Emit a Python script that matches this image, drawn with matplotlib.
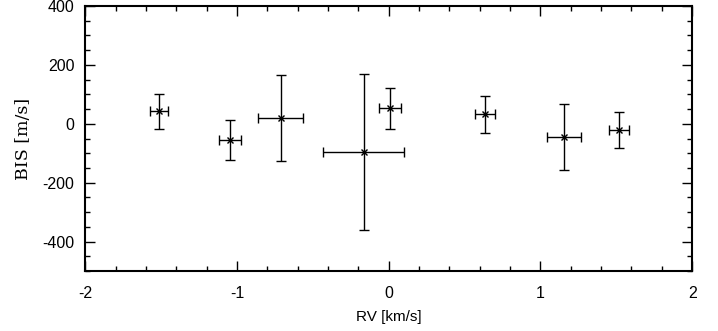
import matplotlib.pyplot as plt
from matplotlib.ticker import MultipleLocator

rv = [-1.515, -1.045, -0.712, -0.165, 0.008, 0.636, 1.154, 1.518]
rv_err = [0.061, 0.073, 0.149, 0.266, 0.070, 0.066, 0.113, 0.065]
bis = [43, -55, 19, -96, 53, 32, -44, -21]
bis_err = [59, 69, 145, 265, 69, 63, 112, 61]

plt.rcParams['font.family'] = ['Liberation Sans', 'DejaVu Sans']
plt.rcParams['axes.unicode_minus'] = False
fig = plt.figure(figsize=(7.18, 3.31), dpi=100)
ax = fig.add_axes([0.119, 0.181, 0.845, 0.801])

ax.errorbar(rv, bis, xerr=rv_err, yerr=bis_err, fmt='none', ecolor='black',
            elinewidth=1.0, capsize=3.5, capthick=1.0)
ax.plot(rv, bis, 'x', color='black', markersize=4, markeredgewidth=1.0)
ax.plot(rv, bis, 's', color='black', markersize=2)

ax.set_xlim(-2, 2)
ax.set_ylim(-500, 400)
ax.xaxis.set_major_locator(MultipleLocator(1))
ax.xaxis.set_minor_locator(MultipleLocator(0.2))
ax.yaxis.set_major_locator(MultipleLocator(200))
ax.yaxis.set_minor_locator(MultipleLocator(50))
ax.tick_params(which='both', direction='in', top=True, right=True, labelsize=11.5)
ax.tick_params(which='major', length=7, width=1)
ax.tick_params(which='minor', length=3.5, width=1)
ax.tick_params(axis='x', pad=11)
ax.tick_params(axis='y', pad=8)
for s in ax.spines.values():
    s.set_linewidth(1.5)

ax.set_xlabel('RV [km/s]', fontsize=11, labelpad=6)
ax.set_ylabel('BIS [m/s]', fontsize=12.5, family='DejaVu Serif', labelpad=7)

plt.savefig('out.png')
